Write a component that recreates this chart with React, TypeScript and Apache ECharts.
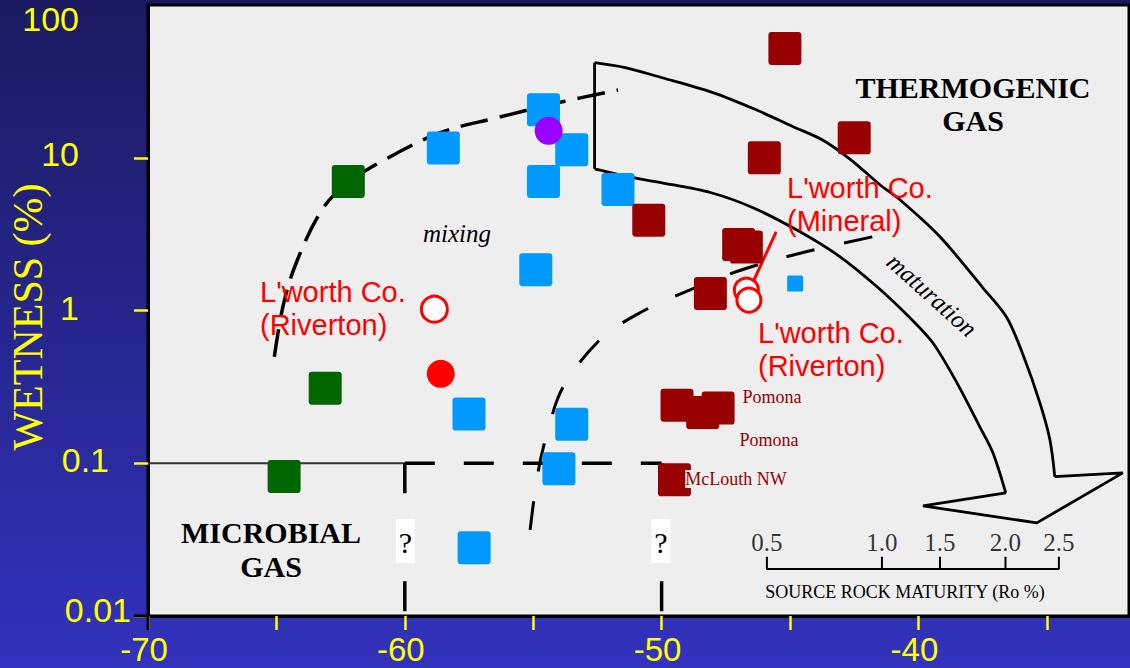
import React, { useEffect, useRef } from 'react';
import * as echarts from 'echarts';

type Pt = [number, number];

const SERIF = '"Liberation Serif", "Times New Roman", serif';
const SANS = '"Liberation Sans", Arial, sans-serif';
const YELLOW = '#ffff00';

// Axis ticks and labels
const xTickValues = [-70, -65, -60, -55, -50, -45, -40, -35];
const xLabelValues = [-70, -60, -50, -40];
const yTickLabels = ['0.01', '0.1', '1', '10', '100'];

// Gas samples: [δ13C of methane (‰), wetness (%)]
const microbialSamples: Pt[] = [
  [-62.2, 7.0],
  [-63.1, 0.31],
  [-64.7, 0.082],
];
const mixedSamples: Pt[] = [
  [-58.5, 11.6],
  [-54.6, 20.6],
  [-53.5, 11.3],
  [-54.6, 7.0],
  [-51.7, 6.2],
  [-54.9, 1.85],
  [-57.5, 0.21],
  [-53.5, 0.18],
  [-54.0, 0.092],
  [-57.3, 0.028],
];
const thermogenicSamples: Pt[] = [
  [-45.2, 52],
  [-42.5, 13.5],
  [-46.0, 10],
  [-50.5, 3.9],
  [-47.0, 2.7],
  [-46.7, 2.6],
  [-48.1, 1.29],
  [-49.4, 0.24],
  [-48.4, 0.215],
  [-47.8, 0.23],
  [-49.5, 0.078],
];
const smallSample: Pt[] = [[-44.8, 1.5]];
const purpleSample: Pt[] = [[-54.4, 15]];
const rivertonFilled: Pt[] = [[-58.6, 0.385]];
const rivertonOpenLeft: Pt[] = [[-58.85, 1.02]];
const lworthOpenRight: Pt[] = [
  [-46.7, 1.36],
  [-46.6, 1.17],
];

// Field boundaries
const microbialCutoff: Pt[] = [
  [-70, 0.1],
  [-60, 0.1],
];
const microbialDashTop: Pt[] = [
  [-60, 0.1],
  [-50, 0.1],
];
const microbialDashLeft: Pt[] = [
  [-60, 0.1],
  [-60, 0.01],
];
const microbialDashRight: Pt[] = [
  [-50, 0.1],
  [-50, 0.01],
];
const mixingCurve: Pt[] = [
  [-65.08, 0.498],
  [-64.73, 1.09],
  [-64.18, 2.15],
  [-63.17, 4.71],
  [-62.16, 6.96],
  [-60.64, 10],
  [-58.62, 14.6],
  [-56.4, 18.3],
  [-54.03, 22.9],
  [-51.7, 27.8],
];
const thermogenicCurve: Pt[] = [
  [-55.12, 0.0366],
  [-54.81, 0.0879],
  [-54.42, 0.1656],
  [-53.83, 0.3165],
  [-52.4, 0.643],
  [-50.99, 0.937],
  [-48.89, 1.366],
  [-46.75, 1.876],
  [-44.22, 2.46],
  [-41.61, 3.08],
];

// Maturation arrow outline
const arrowOuter: Pt[] = [
  [-52.61, 41.9],
  [-51.42, 38.9],
  [-49.98, 33.4],
  [-48.0, 26.7],
  [-46.32, 20.6],
  [-44.88, 15.96],
  [-43.75, 13.12],
  [-42.63, 9.7],
  [-41.5, 6.66],
  [-40.72, 5.31],
  [-39.16, 3.04],
  [-37.49, 1.408],
  [-36.56, 0.9],
  [-35.93, 0.515],
  [-35.27, 0.2486],
  [-34.88, 0.1425],
  [-34.69, 0.0818],
];
const arrowHead: Pt[] = [
  [-34.69, 0.0818],
  [-32.04, 0.0865],
  [-35.39, 0.0407],
  [-39.82, 0.0526],
  [-36.6, 0.064],
];
const arrowInner: Pt[] = [
  [-36.6, 0.064],
  [-37.1, 0.117],
  [-37.61, 0.1732],
  [-38.5, 0.336],
  [-39.44, 0.6145],
  [-40.33, 0.896],
  [-41.61, 1.43],
  [-43.05, 2.247],
  [-44.61, 3.277],
  [-46.44, 4.706],
  [-48.07, 5.9],
  [-49.98, 6.86],
  [-51.11, 7.4],
  [-52.61, 8.47],
];
const arrowTail: Pt[] = [
  [-52.61, 8.47],
  [-52.61, 41.9],
];

// Leader from the Mineral label to its sample
const mineralLeader: Pt[] = [
  [-45.54, 3.277],
  [-46.4, 1.589],
];

// Source rock maturity scale (Ro %), placed along the δ13C axis
const roLabels = ['0.5', '1.0', '1.5', '2.0', '2.5'];
const roPositions = [-45.9, -41.42, -39.16, -36.61, -34.53];
const roBarLevel = 0.0203;
const roTickTop = 0.0244;

const SQUARE = 'path://M3,0H29Q32,0 32,3V29Q32,32 29,32H3Q0,32 0,29V3Q0,0 3,0Z';

function lineSeries(name: string, data: Pt[], opts: any = {}) {
  return {
    type: 'line',
    name,
    data,
    symbol: 'none',
    silent: true,
    smooth: opts.smooth ?? false,
    z: opts.z ?? 2,
    lineStyle: {
      color: opts.color ?? '#000',
      width: opts.width ?? 3,
      type: opts.dash ?? 'solid',
      cap: 'butt',
    },
  };
}

function squareSeries(name: string, data: Pt[], color: string, size = 33) {
  return {
    type: 'scatter',
    name,
    data,
    symbol: SQUARE,
    symbolSize: size,
    z: 5,
    itemStyle: { color, opacity: 1 },
  };
}

function circleSeries(name: string, data: Pt[], color: string, size: number, open = false) {
  return {
    type: 'scatter',
    name,
    data,
    symbol: 'circle',
    symbolSize: size,
    z: 6,
    itemStyle: open
      ? { color: '#ffffff', borderColor: color, borderWidth: 3, opacity: 1 }
      : { color, opacity: 1 },
  };
}

function buildRoBar(): Pt[] {
  const pts: Pt[] = [];
  roPositions.forEach((x, i) => {
    if (i === 0) {
      pts.push([x, roTickTop], [x, roBarLevel]);
    } else {
      pts.push([x, roBarLevel], [x, roTickTop], [x, roBarLevel]);
    }
  });
  return pts;
}

function text(x: number, y: number, content: string, style: any, extra: any = {}) {
  return {
    type: 'text',
    x,
    y,
    z: 100,
    silent: true,
    ...extra,
    style: {
      text: content,
      align: 'center',
      verticalAlign: 'middle',
      ...style,
    },
  };
}

function questionBox(cx: number, cy: number) {
  return {
    type: 'group',
    z: 90,
    silent: true,
    children: [
      { type: 'rect', z: 90, shape: { x: cx - 9.5, y: cy - 22, width: 19, height: 44 }, style: { fill: '#ffffff' } },
      text(cx, cy + 1, '?', { fill: '#000', fontFamily: SERIF, fontSize: 30 }),
    ],
  };
}

function buildOption(): any {
  const yRich: any = {};
  // per-label padding: [top, right, bottom, left]
  const yPads = [
    [0, 0, 12, 0],
    [0, 22, 6, 0],
    [0, 52, 6, 0],
    [0, 52, 8, 0],
  ];
  yPads.forEach((p, i) => {
    yRich['p' + i] = {
      color: YELLOW,
      fontFamily: SANS,
      fontSize: 34,
      lineHeight: 30,
      padding: p,
    };
  });

  return {
    animation: false,
    backgroundColor: new echarts.graphic.LinearGradient(0, 0, 0, 1, [
      { offset: 0, color: '#1b1a60' },
      { offset: 1, color: '#3232bd' },
    ]),
    grid: {
      left: 148,
      right: 1,
      top: 5,
      bottom: 52,
      show: true,
      backgroundColor: '#eeeeee',
      borderColor: '#000',
      borderWidth: 3,
      containLabel: false,
      outerBoundsMode: 'none',
    },
    xAxis: {
      type: 'value',
      min: -70,
      max: -31.8,
      axisLine: { show: true, onZero: false, lineStyle: { color: '#000', width: 3 } },
      axisTick: {
        show: true,
        customValues: xTickValues,
        length: 14,
        lineStyle: { color: YELLOW, width: 2.5 },
      },
      axisLabel: {
        customValues: xLabelValues,
        margin: 19,
        formatter: (v: number) => `{x|${v}}`,
        rich: {
          x: { color: YELLOW, fontFamily: SANS, fontSize: 33, lineHeight: 28, padding: [0, 8, 0, 0] },
        },
      },
      splitLine: { show: false },
    },
    yAxis: {
      type: 'log',
      logBase: 10,
      min: 0.01,
      max: 100,
      axisLine: { show: true, onZero: false, lineStyle: { color: '#000', width: 3 } },
      axisTick: { show: true, length: 14, lineStyle: { color: YELLOW, width: 2.5 } },
      axisLabel: {
        margin: 17,
        showMaxLabel: false,
        formatter: (v: number) => {
          const i = Math.round(Math.log10(v)) + 2;
          if (i > 3) return '';
          return `{p${i}|${yTickLabels[i]}}`;
        },
        rich: yRich,
      },
      splitLine: { show: false },
    },
    series: [
      lineSeries('microbial cutoff', microbialCutoff, { color: '#333', width: 2 }),
      lineSeries('microbial edge top', microbialDashTop, { width: 3.5, dash: [30, 29] }),
      lineSeries('microbial edge left', microbialDashLeft, { width: 3.5, dash: [30, 29] }),
      lineSeries('microbial edge right', microbialDashRight, { width: 3.5, dash: [30, 29] }),
      lineSeries('mixing boundary', mixingCurve, { width: 3.5, dash: [28, 12], smooth: 0.35 }),
      lineSeries('thermogenic boundary', thermogenicCurve, { width: 3, dash: [29, 30], smooth: 0.35 }),
      lineSeries('arrow outer', arrowOuter, { width: 2.8, smooth: 0.3 }),
      lineSeries('arrow head', arrowHead, { width: 2.8 }),
      lineSeries('arrow inner', arrowInner, { width: 2.8, smooth: 0.3 }),
      lineSeries('arrow tail', arrowTail, { width: 2.8 }),
      lineSeries('Ro scale', buildRoBar(), { width: 2 }),
      lineSeries('Mineral leader', mineralLeader, { color: '#ff0000', width: 3, z: 4 }),
      {
        type: 'scatter',
        name: 'Ro labels',
        silent: true,
        symbolSize: 1,
        itemStyle: { color: 'transparent' },
        data: roPositions.map((x, i) => ({ value: [x, roTickTop], name: roLabels[i] })),
        label: {
          show: true,
          position: 'top',
          distance: 1,
          formatter: (p: any) => p.name,
          color: '#000',
          fontFamily: SERIF,
          fontSize: 25,
        },
      },
      squareSeries('microbial', microbialSamples, '#006600'),
      squareSeries('mixed', mixedSamples, '#0099ff'),
      squareSeries('thermogenic', thermogenicSamples, '#990000'),
      squareSeries('small', smallSample, '#0099ff', 16),
      circleSeries('purple', purpleSample, '#9900ff', 28),
      circleSeries('Riverton filled', rivertonFilled, '#ff0000', 28),
      circleSeries('Riverton open', rivertonOpenLeft, '#ff0000', 26, true),
      circleSeries("L'worth open", lworthOpenRight, '#ff0000', 24, true),
    ],
    graphic: [
      // axis line overhangs at the lower-left corner
      { type: 'line', z: 50, silent: true, shape: { x1: 134, y1: 616, x2: 148, y2: 616 }, style: { stroke: '#000', lineWidth: 3 } },
      { type: 'line', z: 50, silent: true, shape: { x1: 148, y1: 616, x2: 148, y2: 630 }, style: { stroke: '#000', lineWidth: 3 } },
      text(79, 19, yTickLabels[4], { fill: YELLOW, fontFamily: SANS, fontSize: 34, lineHeight: 30, align: 'right' }),
      text(28, 317, 'WETNESS (%)', { fill: YELLOW, fontFamily: SERIF, fontSize: 42 }, { rotation: Math.PI / 2 }),
      text(973, 104, 'THERMOGENIC\nGAS', {
        fill: '#000', fontFamily: SERIF, fontSize: 30, fontWeight: 'bold', lineHeight: 33,
      }),
      text(271, 549, 'MICROBIAL\nGAS', {
        fill: '#000', fontFamily: SERIF, fontSize: 30, fontWeight: 'bold', lineHeight: 34,
      }),
      text(457, 233, 'mixing', { fill: '#000', fontFamily: SERIF, fontSize: 25, fontStyle: 'italic' }),
      text(932, 295, 'maturation', { fill: '#000', fontFamily: SERIF, fontSize: 25, fontStyle: 'italic' }, { rotation: -0.733 }),
      text(772, 397, 'Pomona', { fill: '#990000', fontFamily: SERIF, fontSize: 18 }),
      text(769, 440, 'Pomona', { fill: '#990000', fontFamily: SERIF, fontSize: 18 }),
      text(736, 479, 'McLouth NW', { fill: '#990000', fontFamily: SERIF, fontSize: 18, backgroundColor: '#eeeeee' }),
      text(787, 204.5, "L'worth Co.\n(Mineral)", {
        fill: '#ff0000', fontFamily: SANS, fontSize: 29, lineHeight: 33, align: 'left',
      }),
      text(758, 349.5, "L'worth Co.\n(Riverton)", {
        fill: '#ff0000', fontFamily: SANS, fontSize: 29, lineHeight: 33, align: 'left',
      }),
      text(260, 308.5, "L'worth Co.\n(Riverton)", {
        fill: '#ff0000', fontFamily: SANS, fontSize: 29, lineHeight: 33, align: 'left',
      }),
      text(905, 592, 'SOURCE ROCK MATURITY (Ro %)', { fill: '#000', fontFamily: SERIF, fontSize: 18 }),
      questionBox(405.5, 541),
      questionBox(661, 541),
    ],
  };
}

export default function App() {
  const ref = useRef<HTMLDivElement>(null);
  useEffect(() => {
    document.body.style.margin = '0';
    const chart = echarts.init(ref.current as HTMLDivElement, null, { renderer: 'svg' });
    chart.setOption(buildOption());
    return () => chart.dispose();
  }, []);
  return <div ref={ref} style={{ width: 1130, height: 668 }} />;
}
